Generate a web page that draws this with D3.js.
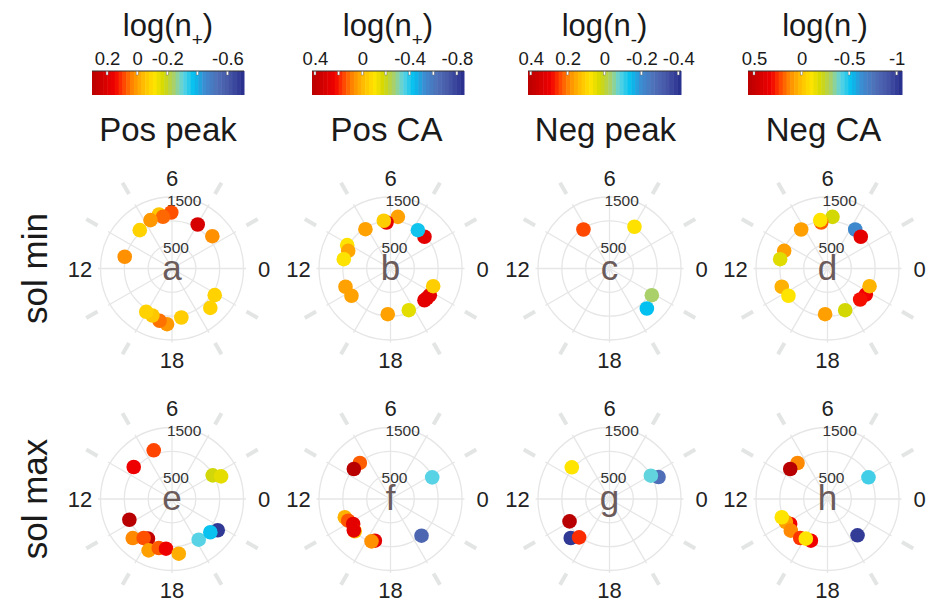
<!DOCTYPE html>
<html>
<head>
<meta charset="utf-8">
<script src="https://cdn.jsdelivr.net/npm/d3@7"></script>
<style>
  body { margin: 0; background: #fff; }
  svg { display: block; font-family: "Liberation Sans", Arial, sans-serif; }
</style>
</head>
<body>
<svg width="927" height="602"></svg>
<script>
var width = 927,
    height = 602;

// column / row labels
var columns = ['Pos peak', 'Pos CA', 'Neg peak', 'Neg CA'];
var rows = ['sol min', 'sol max'];
var letters = ['a', 'b', 'c', 'd', 'e', 'f', 'g', 'h'];
var legendSigns = ['+', '+', '-', '-'];

// colour bar ranges (left = high end) and tick labels
var barDomains = [[0.3, -0.71], [0.425, -0.86], [0.415, -0.415], [0.563, -1.056]];
var barTicks = [[0.2, 0, -0.2, -0.4, -0.6], [0.4, 0.2, 0, -0.2, -0.4, -0.6, -0.8], [0.4, 0.2, 0, -0.2, -0.4], [0.5, 0, -0.5, -1]];
var barTickLabels = [['0.2', '0', '-0.2', '', '-0.6'], ['0.4', '', '0', '', '-0.4', '', '-0.8'], ['0.4', '0.2', '0', '-0.2', '-0.4'], ['0.5', '0', '-0.5', '-1']];

// palette stops (fraction from high end to low end)
var paletteStops = [0, 0.15, 0.2, 0.27, 0.35, 0.41, 0.47, 0.54, 0.6, 0.67, 0.74, 0.82, 0.9, 1];
var paletteColors = ['#b80000', '#f00000', '#ff3c00', '#ff8c00', '#ffc400', '#ffe400', '#d4d800', '#a8d070', '#5cd4e4', '#00c0f0', '#3c8cd0', '#4f70b8', '#4858a8', '#262c8c'];

// radial grid
var radialBreaks = [500, 1000, 1500];
var radialLabels = [500, 1500];
var hourLabels = [0, 6, 12, 18];

// panel data: local hour, radius value, log(n)
var hourA = [6.05, 6.9, 6.66, 7.6, 8.67, 11.07, 3.98, 2.58, 21.87, 20.95, 18.72, 17.66, 17.11, 16.49, 15.95];
var radA  = [1175, 1165, 1101, 1111, 1051, 1022, 1069, 1084, 1056, 1152, 1047, 1173, 1128, 1069, 1057];
var logA  = [0.08, -0.06, 0.06, 0.01, -0.08, 0.02, 0.22, 0.02, -0.08, -0.08, -0.07, 0.01, 0.05, -0.06, -0.08];

var hourB = [5.46, 6.33, 6.53, 8.17, 2.87, 3.63, 10.11, 10.49, 11.25, 13.47, 14.33, 17.77, 19.58, 21.13, 21.4, 21.72, 22.5];
var radB  = [1095, 969, 1011, 978, 975, 988, 1032, 962, 999, 1019, 999, 960, 955, 975, 985, 997, 969];
var logB  = [0.04, 0.27, -0.05, 0.04, 0.27, -0.42, -0.1, 0.03, -0.1, 0.04, 0.04, 0.04, -0.15, 0.27, 0.27, 0.27, -0.05];

var hourC = [8.25, 3.94, 21.85, 20.87];
var radC  = [984, 1020, 1050, 1148];
var logC  = [0.24, 0.08, -0.03, -0.14];

var hourD = [5.63, 6.52, 6.57, 8.27, 3.64, 2.91, 10.52, 11.26, 13.45, 14.33, 17.8, 19.53, 21.72, 21.1, 22.48];
var radD  = [1089, 974, 1026, 987, 1004, 965, 982, 1012, 1033, 999, 960, 950, 972, 945, 957];
var logD  = [-0.2, 0.19, -0.1, 0.08, -0.65, 0.37, 0.08, -0.17, 0.04, -0.1, 0.08, -0.2, 0.32, 0.3, 0.03];

var hourE = [7.37, 9.34, 2.01, 1.65, 13.73, 14.99, 15.92, 15.6, 16.37, 16.99, 17.54, 18.47, 20.22, 21.71, 21.27];
var radE  = [1091, 1047, 988, 1133, 995, 1162, 973, 1011, 1183, 1065, 1050, 1156, 1021, 1162, 1065];
var logE  = [0.09, 0.15, -0.18, -0.15, 0.3, 0.03, 0.27, 0.08, 0.0, 0.07, 0.15, -0.02, -0.31, -0.68, -0.37];

var hourF = [8.69, 9.38, 1.83, 13.45, 13.81, 14.25, 14.8, 14.7, 16.63, 16.39, 20.68];
var radF  = [993, 994, 986, 1032, 997, 942, 1010, 1012, 934, 974, 1008];
var logF  = [0.13, 0.425, -0.35, 0.01, 0.14, 0.27, -0.02, 0.27, 0.27, 0.07, -0.67];

var hourG = [9.33, 1.61, 1.96, 13.95, 15.01, 15.44];
var radG  = [1033, 1127, 996, 961, 1153, 1026];
var logG  = [0.075, -0.27, -0.08, 0.415, -0.39, 0.26];

var hourH = [8.65, 9.41, 1.86, 14.25, 13.93, 13.45, 14.72, 15.67, 16.55, 16.09, 20.64];
var radH  = [983, 1004, 973, 942, 998, 1032, 1016, 998, 942, 948, 988];
var logH  = [0.13, 0.563, -0.44, 0.32, 0.08, -0.1, 0.13, 0.25, 0.32, -0.1, -1.0];

var panels = [
  [hourA, radA, logA], [hourB, radB, logB], [hourC, radC, logC], [hourD, radD, logD],
  [hourE, radE, logE], [hourF, radF, logF], [hourG, radG, logG], [hourH, radH, logH]
];

// layout
var colX = [172, 390.5, 609.5, 827.5],
    rowY = [268.5, 499],
    barX = [[92, 244], [312, 464], [528, 681], [748, 902]],
    barTop = 71,
    barHeight = 24;

var r = d3.scaleLinear().domain([0, 1500]).range([0, 71.5]);

function angle(h) { return h / 24 * 2 * Math.PI; }
function px(h, v) { return r(v) * Math.cos(angle(h)); }
function py(h, v) { return -r(v) * Math.sin(angle(h)); }

function colourScale(dom) {
  var span = dom[0] - dom[1];
  return d3.scaleLinear()
    .domain(paletteStops.map(function(f) { return dom[0] - f * span; }))
    .range(paletteColors)
    .clamp(true);
}

var svg = d3.select('svg');

// colour bars
columns.forEach(function(name, c) {
  var dom = barDomains[c];
  var color = colourScale(dom);
  var x = d3.scaleLinear().domain(dom).range(barX[c]);
  var g = svg.append('g');
  var cx = (barX[c][0] + barX[c][1]) / 2;

  var title = g.append('text')
    .attr('x', cx)
    .attr('y', 36)
    .attr('text-anchor', 'middle')
    .style('font-size', '31px')
    .style('fill', '#1a1a1a');
  title.append('tspan').text('log(n');
  title.append('tspan').attr('dy', 10).style('font-size', '19px').text(legendSigns[c]);
  title.append('tspan').attr('dy', -10).text(')');

  var nbin = 40;
  var step = (dom[0] - dom[1]) / nbin;
  g.selectAll('rect.bin')
    .data(d3.range(nbin))
    .enter().append('rect')
    .attr('class', 'bin')
    .attr('x', function(i) { return x(dom[0] - i * step); })
    .attr('width', function(i) { return x(dom[0] - (i + 1) * step) - x(dom[0] - i * step) + 0.5; })
    .attr('y', barTop)
    .attr('height', barHeight)
    .style('fill', function(i) { return color(dom[0] - (i + 0.5) * step); });

  g.append('line')
    .attr('x1', barX[c][0]).attr('x2', barX[c][1])
    .attr('y1', barTop).attr('y2', barTop)
    .style('stroke', '#333')
    .style('stroke-width', 1);

  var axis = d3.axisTop(x)
    .tickValues(barTicks[c])
    .tickSize(0)
    .tickPadding(6)
    .tickFormat(function(d, i) { return barTickLabels[c][i]; });

  var ax = g.append('g')
    .attr('transform', 'translate(0,' + barTop + ')')
    .call(axis);
  ax.select('.domain').remove();
  ax.selectAll('text')
    .style('font-size', '18.5px')
    .style('fill', '#1a1a1a')
    .style('font-family', '"Liberation Sans", Arial, sans-serif');

  g.selectAll('rect.tick-mark')
    .data(barTicks[c])
    .enter().append('rect')
    .attr('class', 'tick-mark')
    .attr('x', function(d) { return x(d) - 1; })
    .attr('y', barTop + 0.5)
    .attr('width', 2)
    .attr('height', 3.5)
    .style('fill', '#fff')
    .style('stroke', '#666')
    .style('stroke-width', 0.4);

  // column title
  svg.append('text')
    .attr('x', colX[c] - 4)
    .attr('y', 141)
    .attr('text-anchor', 'middle')
    .style('font-size', '33px')
    .style('fill', '#1a1a1a')
    .text(name);
});

// row titles
rows.forEach(function(name, i) {
  svg.append('text')
    .attr('transform', 'translate(47,' + rowY[i] + ') rotate(-90)')
    .attr('text-anchor', 'middle')
    .style('font-size', '35px')
    .style('fill', '#1a1a1a')
    .text(name);
});

// polar panels
panels.forEach(function(p, k) {
  var c = k % 4,
      row = Math.floor(k / 4);
  var color = colourScale(barDomains[c]);
  var g = svg.append('g')
    .attr('transform', 'translate(' + colX[c] + ',' + rowY[row] + ')');

  // spokes every 2 h
  g.selectAll('line.spoke')
    .data(d3.range(0, 24, 2))
    .enter().append('line')
    .attr('class', 'spoke')
    .attr('x1', 0).attr('y1', 0)
    .attr('x2', function(h) { return 74 * Math.cos(angle(h)); })
    .attr('y2', function(h) { return -74 * Math.sin(angle(h)); })
    .style('stroke', '#e6e6e6')
    .style('stroke-width', 1.3);

  g.selectAll('circle.ring')
    .data(radialBreaks)
    .enter().append('circle')
    .attr('class', 'ring')
    .attr('r', function(d) { return r(d); })
    .style('fill', 'none')
    .style('stroke', '#e6e6e6')
    .style('stroke-width', 1.3);

  // outer tick dashes
  g.selectAll('line.dash')
    .data(d3.range(0, 24, 2).filter(function(h) { return h % 6 !== 0; }))
    .enter().append('line')
    .attr('class', 'dash')
    .attr('x1', function(h) { return 86 * Math.cos(angle(h)); })
    .attr('y1', function(h) { return -86 * Math.sin(angle(h)); })
    .attr('x2', function(h) { return 99 * Math.cos(angle(h)); })
    .attr('y2', function(h) { return -99 * Math.sin(angle(h)); })
    .style('stroke', '#e3e5e5')
    .style('stroke-width', 4);

  g.selectAll('text.hour')
    .data(hourLabels)
    .enter().append('text')
    .attr('class', 'hour')
    .attr('x', function(h) { return 92 * Math.cos(angle(h)); })
    .attr('y', function(h) { return -91 * Math.sin(angle(h)) + 8; })
    .attr('text-anchor', 'middle')
    .style('font-size', '22px')
    .style('fill', '#222')
    .text(function(h) { return h; });

  g.selectAll('text.rlab')
    .data(radialLabels)
    .enter().append('text')
    .attr('class', 'rlab')
    .attr('x', function(d) { return px(5.35, d); })
    .attr('y', function(d) { return py(5.35, d) + 7.5; })
    .attr('text-anchor', 'middle')
    .style('font-size', '15.5px')
    .style('fill', '#333')
    .text(function(d) { return d; });

  g.append('text')
    .attr('y', 11)
    .attr('text-anchor', 'middle')
    .style('font-size', '35px')
    .style('fill', '#6b5b5b')
    .text(letters[k]);

  g.selectAll('circle.pt')
    .data(d3.range(p[0].length))
    .enter().append('circle')
    .attr('class', 'pt')
    .attr('cx', function(i) { return px(p[0][i], p[1][i]); })
    .attr('cy', function(i) { return py(p[0][i], p[1][i]); })
    .attr('r', 7.3)
    .style('fill', function(i) { return color(p[2][i]); });
});
</script>
</body>
</html>
